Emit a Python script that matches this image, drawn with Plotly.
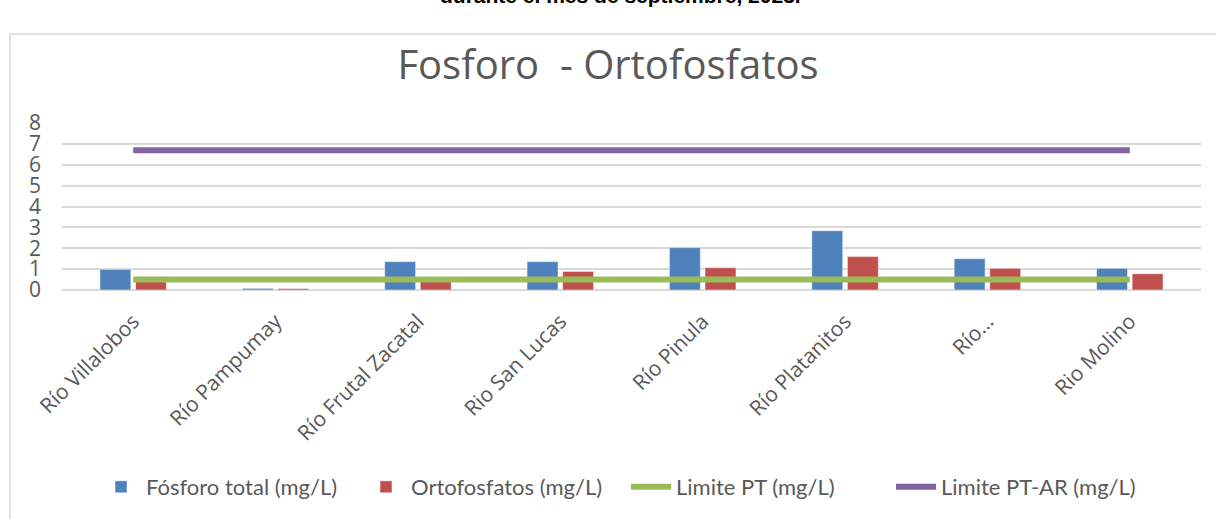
import plotly.graph_objects as go

categories = ["Río Villalobos", "Río Pampumay", "Río Frutal Zacatal", "Rio San Lucas",
              "Río Pinula", "Río Platanitos", "Río…", "Rio Molino"]
fosforo_total = [0.99, 0.08, 1.36, 1.36, 2.03, 2.84, 1.50, 1.04]
ortofosfatos = [0.63, 0.07, 0.45, 0.89, 1.07, 1.60, 1.04, 0.78]
limite_pt = [0.5] * 8
limite_pt_ar = [6.7] * 8
y_ticks = [0, 1, 2, 3, 4, 5, 6, 7, 8]

W, H = 1216, 519
OFF = 0  # body margin removed by post_script below
# target plot area in page pixels: x 62..1201, y 123..290
L = 62 - OFF
T = 123 - OFF
R = W - (1201 - OFF)
B = H - (290 - OFF)
pw, ph = W - L - R, H - T - B

def px_x(x):  # page pixel -> paper x
    return (x - OFF - L) / pw

def px_y(y):  # page pixel -> paper y
    return (H - B - (y - OFF)) / ph

GRAY = "#595959"
fig = go.Figure()
fig.add_trace(go.Bar(x=categories, y=fosforo_total, name="Fósforo total (mg/L)",
                     marker=dict(color="#4F81BD", line=dict(color="rgba(255,255,255,0.5)", width=1))))
fig.add_trace(go.Bar(x=categories, y=ortofosfatos, name="Ortofosfatos (mg/L)",
                     marker=dict(color="#C0504D", line=dict(color="rgba(255,255,255,0.5)", width=1))))
fig.add_trace(go.Scatter(x=categories, y=limite_pt, name="Limite PT (mg/L)", mode="lines",
                         line=dict(color="#9BBB59", width=6)))
fig.add_trace(go.Scatter(x=categories, y=limite_pt_ar, name="Limite PT-AR (mg/L)", mode="lines",
                         line=dict(color="#8064A2", width=6)))

fig.update_layout(
    width=W, height=H,
    margin=dict(l=L, r=R, t=T, b=B, autoexpand=False),
    paper_bgcolor="white", plot_bgcolor="white",
    barmode="group", bargap=0.5, bargroupgap=0.13,
    font=dict(family="Open Sans", color=GRAY),
    title=dict(text="Fosforo \u00a0- Ortofosfatos", x=0.5, xanchor="center",
               y=1 - (65 - OFF) / H, yanchor="middle",
               font=dict(family="Open Sans", size=40, color=GRAY)),
    showlegend=True,
    legend=dict(orientation="h", x=px_x(626), xanchor="center", y=px_y(487), yanchor="middle",
                font=dict(family="Lato", size=22, color=GRAY), itemwidth=40,
                entrywidth=210, entrywidthmode="pixels",
                traceorder="normal"),
    xaxis=dict(tickangle=-45, tickfont=dict(family="Open Sans", size=21, color=GRAY),
               showline=False, showgrid=False, ticks="", ticklabelstandoff=14),
    yaxis=dict(range=[0, 8], tickvals=y_ticks, tickfont=dict(family="Open Sans", size=21, color=GRAY),
               showgrid=True, gridcolor="#D9D9D9", gridwidth=1.5,
               zeroline=True, zerolinecolor="#D9D9D9", zerolinewidth=1.5,
               showline=False, ticks="", ticklabelstandoff=20),
    shapes=[dict(type="rect", xref="paper", yref="paper",
                 x0=px_x(10), x1=px_x(W + 30), y0=px_y(34), y1=px_y(H + 30),
                 line=dict(color="#D9D9D9", width=1.5), fillcolor="rgba(0,0,0,0)", layer="below")],
    annotations=[dict(text="<b>durante el mes de septiembre, 2023.</b>", xref="paper", yref="paper",
                      x=px_x(620), y=px_y(-5), xanchor="center", yanchor="middle", showarrow=False,
                      font=dict(family="Liberation Sans", size=21, color="black"))],
)

fig.write_html("out.html", config={"displayModeBar": False},
               post_script="document.body.style.margin='0';document.body.style.overflow='hidden';")
